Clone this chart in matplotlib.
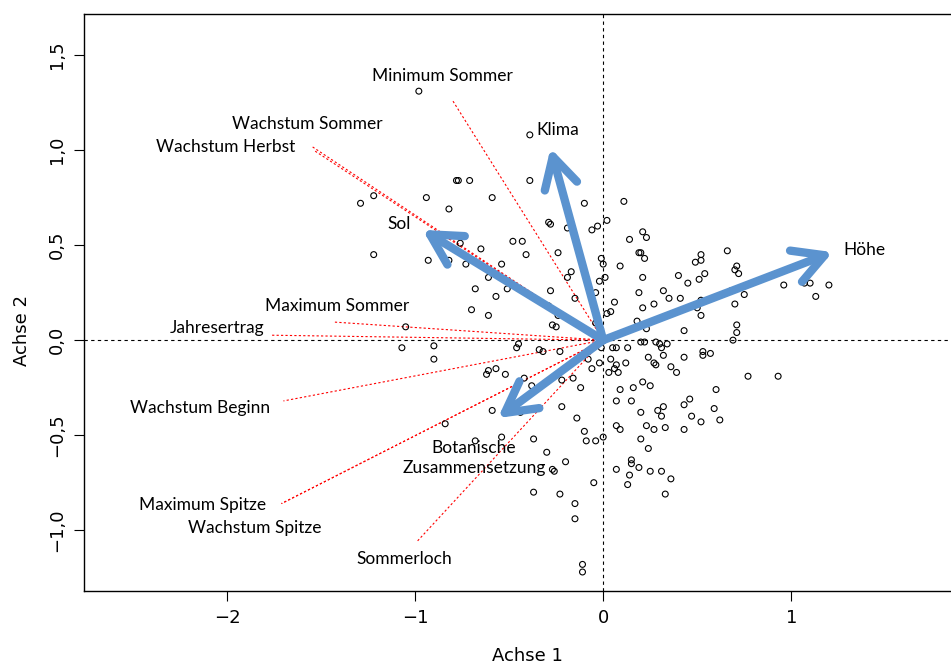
import matplotlib
matplotlib.use("Agg")
import matplotlib.pyplot as plt
import numpy as np

# Punkte (Standorte) im Ordinationsraum
pts_x = [-0.98, -0.39, -0.78, -0.77, -0.71, -0.39, -1.29, -1.22, -0.94, -0.59,
         -0.82, -0.10, 0.11, -0.29, -0.28, -0.19, -0.06, -0.03, 0.02, 0.14,
         0.19, -1.22, -0.93, -0.82, -0.73, -0.76, -0.65, -0.54, -0.48, -0.43,
         -0.41, -0.24, -0.01, 0.00, 0.09, -0.61, -0.68, -0.57, -0.51, -0.19,
         -0.17, 0.01, -0.02, -0.28, -0.04, -0.15, 0.06, -0.70, -0.61, -0.29,
         -0.24, 0.02, 0.04, 0.18, -0.04, -0.27, -0.25, -1.05, -1.07, -0.90,
         -0.90, -0.45, -0.46, -0.34, -0.32, -0.23, -0.04, -0.01, 0.05, 0.07,
         0.13, 0.21, 0.23, 0.20, 0.22, 0.52, 0.49, 0.52, 0.66, 0.71,
         0.70, 0.72, 0.21, 0.40, 0.54, 0.45, 0.51, 0.32, 0.19, 0.68,
         0.75, 0.96, 1.07, 1.10, 1.20, 1.13, 0.35, 0.41, 0.21, 0.27,
         0.50, 0.52, 0.52, 0.70, 0.23, 0.43, 0.71, 0.71, 0.69, 0.20,
         0.22, 0.28, 0.30, 0.34, 0.31, 0.32, 0.24, 0.27, 0.28, 0.36,
         0.39, 0.43, 0.53, 0.53, 0.57, 0.77, 0.93, -0.08, -0.02, -0.06,
         0.04, 0.07, 0.06, 0.03, 0.08, 0.12, -0.62, -0.61, -0.57, -0.52,
         -0.42, -0.22, -0.16, -0.38, -0.12, 0.09, 0.16, 0.21, 0.25, 0.60,
         0.07, 0.15, 0.46, 0.43, 0.32, 0.29, 0.31, 0.20, 0.47, 0.52,
         0.59, 0.62, -0.59, -0.44, -0.22, -0.14, 0.23, 0.27, 0.33, 0.43,
         0.07, 0.09, 0.20, 0.24, -0.10, -0.09, -0.04, 0.00, -0.54, -0.37,
         -0.30, -0.20, -0.27, -0.26, 0.07, 0.15, 0.15, 0.19, 0.25, 0.31,
         0.36, 0.14, 0.13, 0.33, -0.05, -0.37, -0.23, -0.15, -0.15, -0.11,
         -0.11, -0.84, -0.68]
pts_y = [1.31, 1.08, 0.84, 0.84, 0.84, 0.84, 0.72, 0.76, 0.75, 0.75,
         0.69, 0.72, 0.73, 0.62, 0.61, 0.59, 0.58, 0.60, 0.63, 0.53,
         0.46, 0.45, 0.42, 0.42, 0.40, 0.51, 0.48, 0.40, 0.52, 0.52,
         0.45, 0.46, 0.43, 0.40, 0.39, 0.33, 0.27, 0.23, 0.27, 0.33,
         0.36, 0.33, 0.31, 0.26, 0.25, 0.22, 0.20, 0.16, 0.13, 0.18,
         0.13, 0.14, 0.15, 0.10, 0.09, 0.08, 0.07, 0.07, -0.04, -0.03,
         -0.10, -0.02, -0.04, -0.05, -0.06, -0.06, -0.03, -0.04, -0.04, -0.04,
         -0.04, 0.57, 0.54, 0.46, 0.43, 0.45, 0.41, 0.42, 0.47, 0.39,
         0.37, 0.35, 0.33, 0.34, 0.35, 0.30, 0.32, 0.26, 0.25, 0.26,
         0.24, 0.29, 0.30, 0.30, 0.29, 0.23, 0.22, 0.22, 0.17, 0.19,
         0.17, 0.21, 0.13, 0.19, 0.06, 0.05, 0.08, 0.04, 0.00, -0.01,
         -0.01, -0.01, -0.02, -0.02, -0.04, -0.08, -0.09, -0.12, -0.13, -0.14,
         -0.17, -0.09, -0.06, -0.08, -0.07, -0.19, -0.19, -0.10, -0.12, -0.15,
         -0.10, -0.13, -0.15, -0.17, -0.17, -0.12, -0.18, -0.16, -0.15, -0.18,
         -0.20, -0.21, -0.20, -0.24, -0.25, -0.26, -0.25, -0.22, -0.24, -0.26,
         -0.32, -0.32, -0.31, -0.34, -0.35, -0.37, -0.40, -0.38, -0.40, -0.43,
         -0.36, -0.42, -0.37, -0.38, -0.35, -0.41, -0.45, -0.47, -0.46, -0.47,
         -0.45, -0.47, -0.52, -0.57, -0.48, -0.53, -0.53, -0.51, -0.51, -0.52,
         -0.59, -0.64, -0.68, -0.69, -0.68, -0.63, -0.65, -0.67, -0.69, -0.69,
         -0.73, -0.71, -0.76, -0.81, -0.75, -0.80, -0.81, -0.86, -0.94, -1.18,
         -1.22, -0.44, -0.53]

# Umweltvariablen (blaue Pfeile)
env_names = ["Höhe", "Klima", "Sol", "Botanische\nZusammensetzung"]
env_x = [1.22, -0.28, -0.96, -0.56]
env_y = [0.463, 1.01, 0.58, -0.41]
env_lab_x = [1.388, -0.239, -1.085, -0.686]
env_lab_y = [0.474, 1.105, 0.61, -0.621]

# Ertragsvariablen (rote Linien)
var_names = ["Minimum Sommer", "Wachstum Sommer", "Wachstum Herbst", "Maximum Sommer",
             "Jahresertrag", "Wachstum Beginn", "Maximum Spitze", "Wachstum Spitze",
             "Sommerloch"]
var_x = [-0.80, -1.55, -1.54, -1.43, -1.77, -1.70, -1.71, -1.71, -0.99]
var_y = [1.26, 1.02, 1.00, 0.095, 0.026, -0.32, -0.86, -0.86, -1.06]
var_lab_x = [-0.856, -1.574, -2.005, -1.415, -2.053, -2.144, -2.128, -1.851, -1.059]
var_lab_y = [1.39, 1.137, 1.016, 0.179, 0.063, -0.358, -0.868, -0.989, -1.153]

label_font = ["Lato", "DejaVu Sans"]
axis_font = ["Liberation Sans Narrow", "DejaVu Sans"]
blue = "#5b93cf"

fig = plt.figure(figsize=(9.51, 6.64), dpi=100)
ax = fig.add_axes([84 / 951, 73 / 664, 886 / 951, 577 / 664])
ax.set_xlim(-2.76, 1.95)
ax.set_ylim(-1.32, 1.716)

ax.axhline(0, color="black", lw=0.8, ls=(0, (3, 3)), zorder=1)
ax.axvline(0, color="black", lw=0.8, ls=(0, (3, 3)), zorder=1)

for x, y in zip(var_x, var_y):
    ax.plot([0, x], [0, y], color="red", lw=0.8, ls=(0, (2, 2)), zorder=2)

ax.scatter(pts_x, pts_y, s=18, facecolors="none", edgecolors="black",
           linewidths=0.8, zorder=3)

for x, y in zip(env_x, env_y):
    ax.annotate("", xy=(x, y), xytext=(0, 0),
                arrowprops=dict(arrowstyle="->,head_length=0.55,head_width=0.3",
                                color=blue, lw=6, shrinkA=0, shrinkB=0,
                                mutation_scale=40, capstyle="round",
                                joinstyle="round"),
                zorder=4)

for name, x, y in zip(env_names, env_lab_x, env_lab_y):
    ax.text(x, y, name, ha="center", va="center", fontsize=12.5,
            family=label_font, linespacing=1.3, zorder=5)

for name, x, y in zip(var_names, var_lab_x, var_lab_y):
    ax.text(x, y, name, ha="center", va="center", fontsize=12.5,
            family=label_font, zorder=5)

ax.set_xticks([-2, -1, 0, 1])
ax.set_xticklabels(["\u22122", "\u22121", "0", "1"], family=axis_font, fontsize=13)
yt = [-1.0, -0.5, 0.0, 0.5, 1.0, 1.5]
ax.set_yticks(yt)
ax.set_yticklabels([f"{v:.1f}".replace(".", ",").replace("-", "\u2212") for v in yt],
                   family=axis_font, fontsize=13, rotation=90, va="center")
ax.tick_params(direction="out", length=7, width=0.8, pad=6)

ax.set_xlabel("Achse 1", family=axis_font, fontsize=13, va="center")
ax.set_ylabel("Achse 2", family=axis_font, fontsize=13, va="center")
ax.xaxis.set_label_coords((527 - 84) / 886, -(656 - 591) / 577)
ax.yaxis.set_label_coords(-(84 - 22) / 886, (591 - 330) / 577)

for s in ax.spines.values():
    s.set_linewidth(1.0)

fig.savefig("out.png", dpi=100)
